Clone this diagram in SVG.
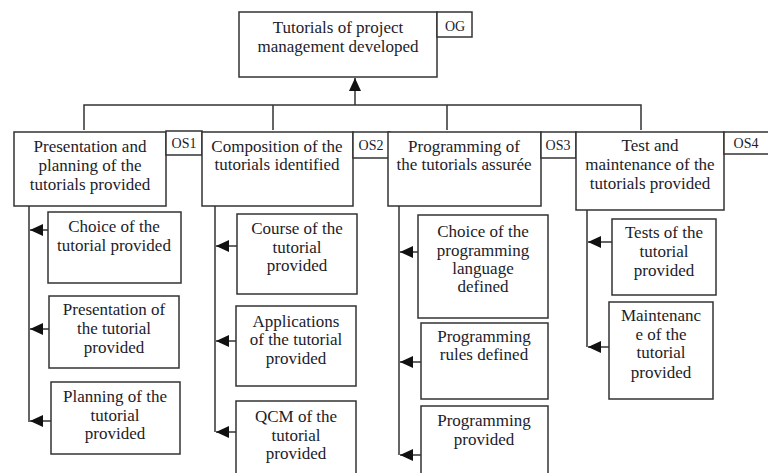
<svg xmlns="http://www.w3.org/2000/svg" width="768" height="473" viewBox="0 0 768 473">
<defs>
<marker id="ah" markerUnits="userSpaceOnUse" markerWidth="14" markerHeight="12" refX="13" refY="6" orient="auto">
<path d="M0,0 L13,6 L0,12 Z" fill="#111"/>
</marker>
<style>
.b{fill:#fff;stroke:#333;stroke-width:1.5}
.c{fill:none;stroke:#333;stroke-width:1.5}
.a{fill:none;stroke:#333;stroke-width:1.5;marker-end:url(#ah)}
text{font-family:"Liberation Serif","DejaVu Serif",serif;font-size:17px;fill:#1c1c2a;text-anchor:middle}
.s{font-size:14px}
</style>
</defs>
<rect width="768" height="473" fill="#fff"/>
<g id="connectors">
<path class="c" d="M84 130 V105 H641 V130 M273 105 V130 M447 105 V130"/>
<path class="a" d="M355 105 V78"/>
<path class="c" d="M29 206 V422 M215 206 V432 M399 206 V455 M587 210 V347"/>
<path class="a" d="M48 230 H30"/>
<path class="a" d="M49 329 H30"/>
<path class="a" d="M51 421 H30"/>
<path class="a" d="M237 246 H216"/>
<path class="a" d="M236 341 H216"/>
<path class="a" d="M236 432 H216"/>
<path class="a" d="M418 252 H400"/>
<path class="a" d="M421 362 H400"/>
<path class="a" d="M421 455 H400"/>
<path class="a" d="M612 242 H588"/>
<path class="a" d="M609 347 H588"/>
</g>
<g id="og">
<rect class="b" x="239" y="12" width="198" height="65"/>
<text x="338" y="33">Tutorials of project</text>
<text x="338" y="52">management developed</text>
<rect class="b" x="437" y="12" width="35" height="25"/>
<text class="s" x="455" y="31">OG</text>
</g>
<g id="os1">
<rect class="b" x="14" y="132" width="152" height="74"/>
<text x="90" y="152">Presentation and</text>
<text x="90" y="171">planning of the</text>
<text x="90" y="190">tutorials provided</text>
<rect class="b" x="166" y="131" width="36" height="24"/>
<text class="s" x="184" y="148">OS1</text>
</g>
<g id="os2">
<rect class="b" x="202" y="132" width="151" height="74"/>
<text x="277" y="152">Composition of the</text>
<text x="277" y="170">tutorials identified</text>
<rect class="b" x="353" y="132" width="37" height="26"/>
<text class="s" x="371" y="150">OS2</text>
</g>
<g id="os3">
<rect class="b" x="388" y="132" width="153" height="74"/>
<text x="464" y="152">Programming of</text>
<text x="464" y="170">the tutorials assurée</text>
<rect class="b" x="541" y="132" width="35" height="26"/>
<text class="s" x="558" y="150">OS3</text>
</g>
<g id="os4">
<rect class="b" x="576" y="132" width="148" height="78"/>
<text x="650" y="151">Test and</text>
<text x="650" y="170">maintenance of the</text>
<text x="650" y="189">tutorials provided</text>
<rect class="b" x="724" y="132" width="48" height="22"/>
<text class="s" x="746" y="148">OS4</text>
</g>
<g id="os1-1">
<rect class="b" x="48" y="212" width="133" height="71"/>
<text x="114" y="232">Choice of the</text>
<text x="114" y="251">tutorial provided</text>
</g>
<g id="os1-2">
<rect class="b" x="49" y="296" width="130" height="72"/>
<text x="114" y="315">Presentation of</text>
<text x="114" y="334">the tutorial</text>
<text x="114" y="353">provided</text>
</g>
<g id="os1-3">
<rect class="b" x="51" y="382" width="129" height="72"/>
<text x="115" y="402">Planning of the</text>
<text x="115" y="421">tutorial</text>
<text x="115" y="439">provided</text>
</g>
<g id="os2-1">
<rect class="b" x="237" y="214" width="120" height="80"/>
<text x="297" y="234">Course of the</text>
<text x="297" y="253">tutorial</text>
<text x="297" y="271">provided</text>
</g>
<g id="os2-2">
<rect class="b" x="236" y="306" width="120" height="80"/>
<text x="296" y="327">Applications</text>
<text x="296" y="345">of the tutorial</text>
<text x="296" y="364">provided</text>
</g>
<g id="os2-3">
<rect class="b" x="236" y="401" width="120" height="80"/>
<text x="296" y="422">QCM of the</text>
<text x="296" y="441">tutorial</text>
<text x="296" y="459">provided</text>
</g>
<g id="os3-1">
<rect class="b" x="418" y="215" width="130" height="103"/>
<text x="483" y="237">Choice of the</text>
<text x="483" y="256">programming</text>
<text x="483" y="274">language</text>
<text x="483" y="292">defined</text>
</g>
<g id="os3-2">
<rect class="b" x="421" y="323" width="127" height="76"/>
<text x="484" y="342">Programming</text>
<text x="484" y="360">rules defined</text>
</g>
<g id="os3-3">
<rect class="b" x="421" y="406" width="127" height="76"/>
<text x="484" y="426">Programming</text>
<text x="484" y="445">provided</text>
</g>
<g id="os4-1">
<rect class="b" x="612" y="219" width="104" height="76"/>
<text x="664" y="238">Tests of the</text>
<text x="664" y="257">tutorial</text>
<text x="664" y="276">provided</text>
</g>
<g id="os4-2">
<rect class="b" x="609" y="302" width="104" height="97"/>
<text x="661" y="321">Maintenanc</text>
<text x="661" y="340">e of the</text>
<text x="661" y="358">tutorial</text>
<text x="661" y="378">provided</text>
</g>
</svg>
